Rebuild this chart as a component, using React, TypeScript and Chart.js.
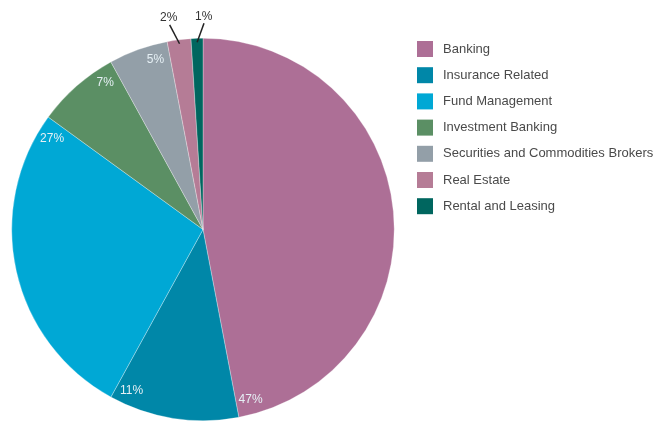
import React, { useEffect, useRef } from "react";
import { Chart, registerables } from "chart.js";

Chart.register(...registerables);

const categories = [
  "Banking",
  "Insurance Related",
  "Fund Management",
  "Investment Banking",
  "Securities and Commodities Brokers",
  "Real Estate",
  "Rental and Leasing",
];
const values = [47, 11, 27, 7, 5, 2, 1];
const colors = ["#AD6F96", "#0087A8", "#00A8D5", "#5B8F64", "#939FA8", "#B57C96", "#00665F"];

const FONT = '"Liberation Sans", Arial, sans-serif';

const labelPlugin = {
  id: "pieLabels",
  afterDatasetsDraw(chart: any) {
    const ctx = chart.ctx as CanvasRenderingContext2D;
    const meta = chart.getDatasetMeta(0);
    const total = values.reduce((a, b) => a + b, 0);
    const outside: any[] = [];
    ctx.save();
    meta.data.forEach((arc: any, i: number) => {
      const { x, y, startAngle, endAngle, outerRadius } = arc.getProps(
        ["x", "y", "startAngle", "endAngle", "outerRadius"],
        true
      );
      const pct = Math.round((values[i] / total) * 100);
      const text = pct + "%";
      if (pct >= 3) {
        const r = outerRadius - 15;
        const a = endAngle - 15 / r;
        ctx.font = `12px ${FONT}`;
        ctx.fillStyle = "#E6F0F5";
        ctx.textAlign = "center";
        ctx.textBaseline = "middle";
        ctx.fillText(text, x + r * Math.cos(a), y + r * Math.sin(a));
      } else {
        const a = (startAngle + endAngle) / 2;
        outside.push({
          text,
          x0: x + (outerRadius - 4) * Math.cos(a),
          y0: y + (outerRadius - 4) * Math.sin(a),
          x1: x + (outerRadius + 15) * Math.cos(a),
          y1: y + (outerRadius + 15) * Math.sin(a),
          tx: x + (outerRadius + 22) * Math.cos(a),
          ty: y + (outerRadius + 22) * Math.sin(a),
        });
      }
    });
    // spread outside labels apart
    for (let k = 1; k < outside.length; k++) {
      const p = outside[k - 1];
      const q = outside[k];
      const gap = q.tx - p.tx;
      if (gap < 35) {
        const s = (35 - gap) / 2;
        p.tx -= s; p.x1 -= s;
        q.tx += s; q.x1 += s;
      }
    }
    outside.forEach((o) => {
      ctx.strokeStyle = "#222";
      ctx.lineWidth = 1.5;
      ctx.beginPath();
      ctx.moveTo(o.x0, o.y0);
      ctx.lineTo(o.x1, o.y1);
      ctx.stroke();
      ctx.font = `12px ${FONT}`;
      ctx.fillStyle = "#333";
      ctx.textAlign = "center";
      ctx.textBaseline = "middle";
      ctx.fillText(o.text, o.tx, o.ty);
    });
    // legend
    const lx = 417;
    const ly = 41;
    const step = 26.2;
    categories.forEach((c, i) => {
      const yy = ly + i * step;
      ctx.fillStyle = colors[i];
      ctx.fillRect(lx, yy, 16, 16);
      ctx.font = `13px ${FONT}`;
      ctx.fillStyle = "#4a4a4a";
      ctx.textAlign = "left";
      ctx.textBaseline = "middle";
      ctx.fillText(c, lx + 26, yy + 8);
    });
    ctx.restore();
  },
};

export default function App() {
  const ref = useRef<HTMLCanvasElement>(null);
  useEffect(() => {
    if (!ref.current) return;
    const chart = new Chart(ref.current, {
      type: "pie",
      data: {
        labels: categories,
        datasets: [
          {
            data: values,
            backgroundColor: colors,
            borderColor: "rgba(255,255,255,0.6)",
            borderWidth: 0.5,
          },
        ],
      },
      options: {
        animation: false,
        responsive: false,
        maintainAspectRatio: false,
        layout: { padding: { top: 38, bottom: 0, left: 11, right: 272 } },
        plugins: { legend: { display: false }, tooltip: { enabled: false } },
      },
      plugins: [labelPlugin],
    });
    return () => chart.destroy();
  }, []);
  return (
    <div style={{ position: "fixed", left: 0, top: 0, width: 667, height: 421, background: "#fff" }}>
      <canvas ref={ref} width={667} height={421} style={{ width: 667, height: 421 }} />
    </div>
  );
}
